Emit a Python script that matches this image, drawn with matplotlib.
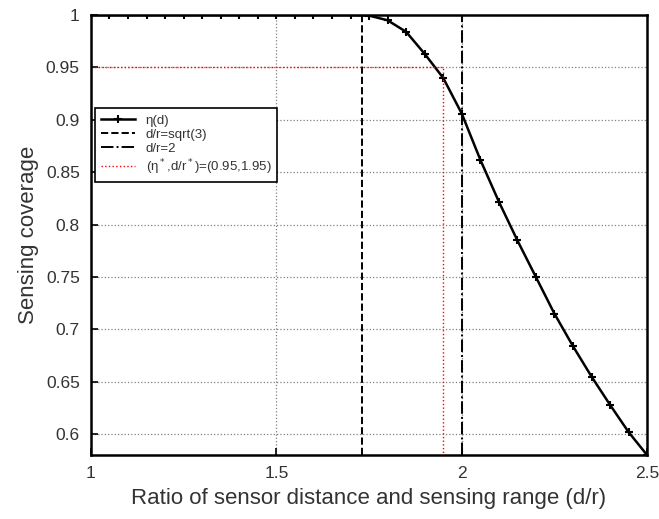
import numpy as np
import matplotlib.pyplot as plt

plt.rcParams['font.family'] = ['Liberation Sans', 'DejaVu Sans']

# coverage eta(d) sampled every 0.05 of d/r
ratio = [1.00, 1.05, 1.10, 1.15, 1.20, 1.25, 1.30, 1.35, 1.40, 1.45,
         1.50, 1.55, 1.60, 1.65, 1.70, 1.75, 1.80, 1.85, 1.90, 1.95,
         2.00, 2.05, 2.10, 2.15, 2.20, 2.25, 2.30, 2.35, 2.40, 2.45, 2.50]
coverage = [1.0, 1.0, 1.0, 1.0, 1.0, 1.0, 1.0, 1.0, 1.0, 1.0,
            1.0, 1.0, 1.0, 1.0, 1.0, 0.9995, 0.995, 0.984, 0.963, 0.940,
            0.906, 0.862, 0.822, 0.785, 0.750, 0.715, 0.684, 0.655, 0.628, 0.602, 0.580]

eta_star = 0.95
dr_star = 1.95
xticks = [1, 1.5, 2, 2.5]
xticklabels = ['1', '1.5', '2', '2.5']
yticks = [0.6, 0.65, 0.7, 0.75, 0.8, 0.85, 0.9, 0.95, 1.0]
yticklabels = ['0.6', '0.65', '0.7', '0.75', '0.8', '0.85', '0.9', '0.95', '1']

txt = '#333333'

fig = plt.figure(figsize=(6.59, 5.19), dpi=100)
ax = fig.add_axes([0.138, 0.123, 0.844, 0.848])

ax.plot(ratio, coverage, 'k-', marker='+', ms=6, mew=1.5, lw=1.8, label='η(d)')
ax.axvline(np.sqrt(3), color='k', ls='--', lw=1.4, label='d/r=sqrt(3)')
ax.axvline(2, color='k', ls='-.', lw=1.4, label='d/r=2')
ax.plot([1, dr_star, dr_star], [eta_star, eta_star, 0.5], color='red', ls=':', lw=1.0,
        label='(η$^*$,d/r$^*$)=(0.95,1.95)')

ax.set_xlim(1, 2.5)
ax.set_ylim(0.58, 1.0)
ax.set_xticks(xticks)
ax.set_xticklabels(xticklabels)
ax.set_yticks(yticks)
ax.set_yticklabels(yticklabels)
ax.grid(True, color='gray', ls=':', lw=0.9)
ax.tick_params(direction='in', labelsize=12.5, length=5, width=1.2, pad=8, labelcolor=txt)
for s in ax.spines.values():
    s.set_linewidth(1.8)

ax.set_xlabel('Ratio of sensor distance and sensing range (d/r)', fontsize=16,
              labelpad=5, color=txt)
ax.set_ylabel('Sensing coverage', fontsize=16, labelpad=5, color=txt)

leg = ax.legend(loc='upper left', bbox_to_anchor=(0.007, 0.788), borderaxespad=0,
                fontsize=9.5, fancybox=False, edgecolor='k', framealpha=1,
                handlelength=2.6, borderpad=0.45, labelspacing=0.15)
leg.get_frame().set_linewidth(1.2)
for t in leg.get_texts():
    t.set_color(txt)

fig.savefig('out.png', dpi=100)
